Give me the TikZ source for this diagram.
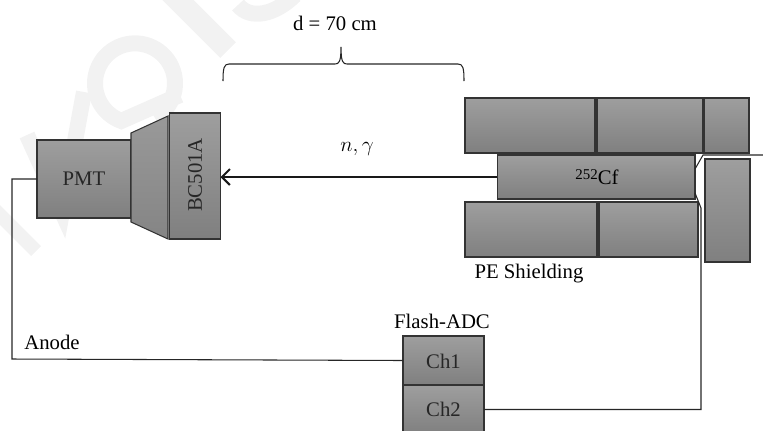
\documentclass[tikz,border=0pt]{standalone}
\usepackage{fontspec}
\usetikzlibrary{arrows.meta}
\setmainfont{Liberation Serif}
\tikzset{
  greybox/.style={draw=black!80, line width=0.6pt, top color=black!38, bottom color=black!50, inner sep=0pt, outer sep=0pt},
  label/.style={font=\fontsize{11.8}{14}\selectfont, inner sep=0pt},
  wire/.style={draw=black!85, line width=0.6pt},
  faint/.style={draw=black!5, line width=0.32cm, line join=miter}
}
\begin{document}
\begin{tikzpicture}[x=0.02cm,y=-0.02cm]
\useasboundingbox (0,0) rectangle (763,430);
% faint mark behind the drawing
\begin{scope}
\clip (0,0) rectangle (763,430);
\draw[faint, line width=0.28cm] (-5,210) -- (36,251);
\draw[faint] (27,135) -- (62,212) -- (84,92);
\draw[faint] (155,118) arc (60:-250:40) -- (180,95);
\draw[faint, line width=0.44cm] (170,-8) -- (228,50);
\draw[faint] (238,5) .. controls (250,20) and (275,15) .. (295,-5);
\end{scope}
% detector
\node[greybox, minimum width=1.88cm, minimum height=1.56cm] (pmt) at (84,179) {};
\draw[greybox, top color=black!40, bottom color=black!48] (131,133) -- (168,116) -- (168,239) -- (131,222) -- cycle;
\node[greybox, minimum width=1.02cm, minimum height=2.52cm] (bc) at (195,176) {};
\node[label, text=black!85] (pmtlabel) at (84,179) {PMT};
\node[label, text=black!85, rotate=90] (bclabel) at (195,175) {BC501A};
% shielding
\node[greybox, minimum width=2.6cm, minimum height=1.1cm] (topa) at (530,125.5) {};
\node[greybox, minimum width=2.12cm, minimum height=1.1cm] (topb) at (650,125.5) {};
\node[greybox, minimum width=0.9cm, minimum height=1.1cm] (topc) at (726.5,125.5) {};
\node[greybox, minimum width=3.96cm, minimum height=0.88cm] (cf) at (596,177) {};
\node[label] (cflabel) at (597,177) {\raisebox{0.45ex}{\fontsize{8.5}{10}\selectfont 252}Cf};
\node[greybox, minimum width=2.64cm, minimum height=1.1cm] (bota) at (531,229.5) {};
\node[greybox, minimum width=1.98cm, minimum height=1.1cm] (botb) at (648.5,229.5) {};
\node[greybox, minimum width=0.9cm, minimum height=2.06cm] (side) at (727.5,210.5) {};
\node[label] (pe) at (529,274) {PE Shielding};
% flash adc
\node[greybox, minimum width=1.62cm, minimum height=0.98cm] (chone) at (443.5,360.5) {};
\node[greybox, minimum width=1.62cm, minimum height=0.98cm] (chtwo) at (443.5,409.5) {};
\node[label, text=black!85] (chonelabel) at (443.5,361) {Ch1};
\node[label, text=black!85] (chtwolabel) at (443.5,409) {Ch2};
\node[label] (adc) at (442,321) {Flash-ADC};
\node[label] (anode) at (52,342) {Anode};
% beam
\draw[-{Straight Barb[length=4.5pt,width=9pt]}, line width=1.2pt, black!90] (cf.west) -- (bc.east |- cf.west);
\node[label] (beam) at (357,149) {$n,\gamma$};
% cabling
\coordinate (corner) at (12,359);
\coordinate (upperfoot) at (695,169);
\coordinate (upperknee) at (703,155);
\coordinate (upperend) at (763,155);
\coordinate (lowerfoot) at (695,193);
\coordinate (lowerknee) at (701,208);
\draw[wire] (pmt.west) -| (corner) -- (chone.west);
\draw[wire] (upperfoot) -- (upperknee) -- (upperend);
\draw[wire] (lowerfoot) -- (lowerknee) |- (chtwo.east);
% distance
\node[label] (dist) at (335,23) {d = 70 cm};
\draw[black!85, line width=0.6pt] (223,81) .. controls (223,68) and (224,64) .. (229,64) -- (335,64) .. controls (339,64) and (341,62) .. (341,47) .. controls (341,62) and (343,64) .. (347,64) -- (458,64) .. controls (463,64) and (464,68) .. (464,81);
\end{tikzpicture}
\end{document}
